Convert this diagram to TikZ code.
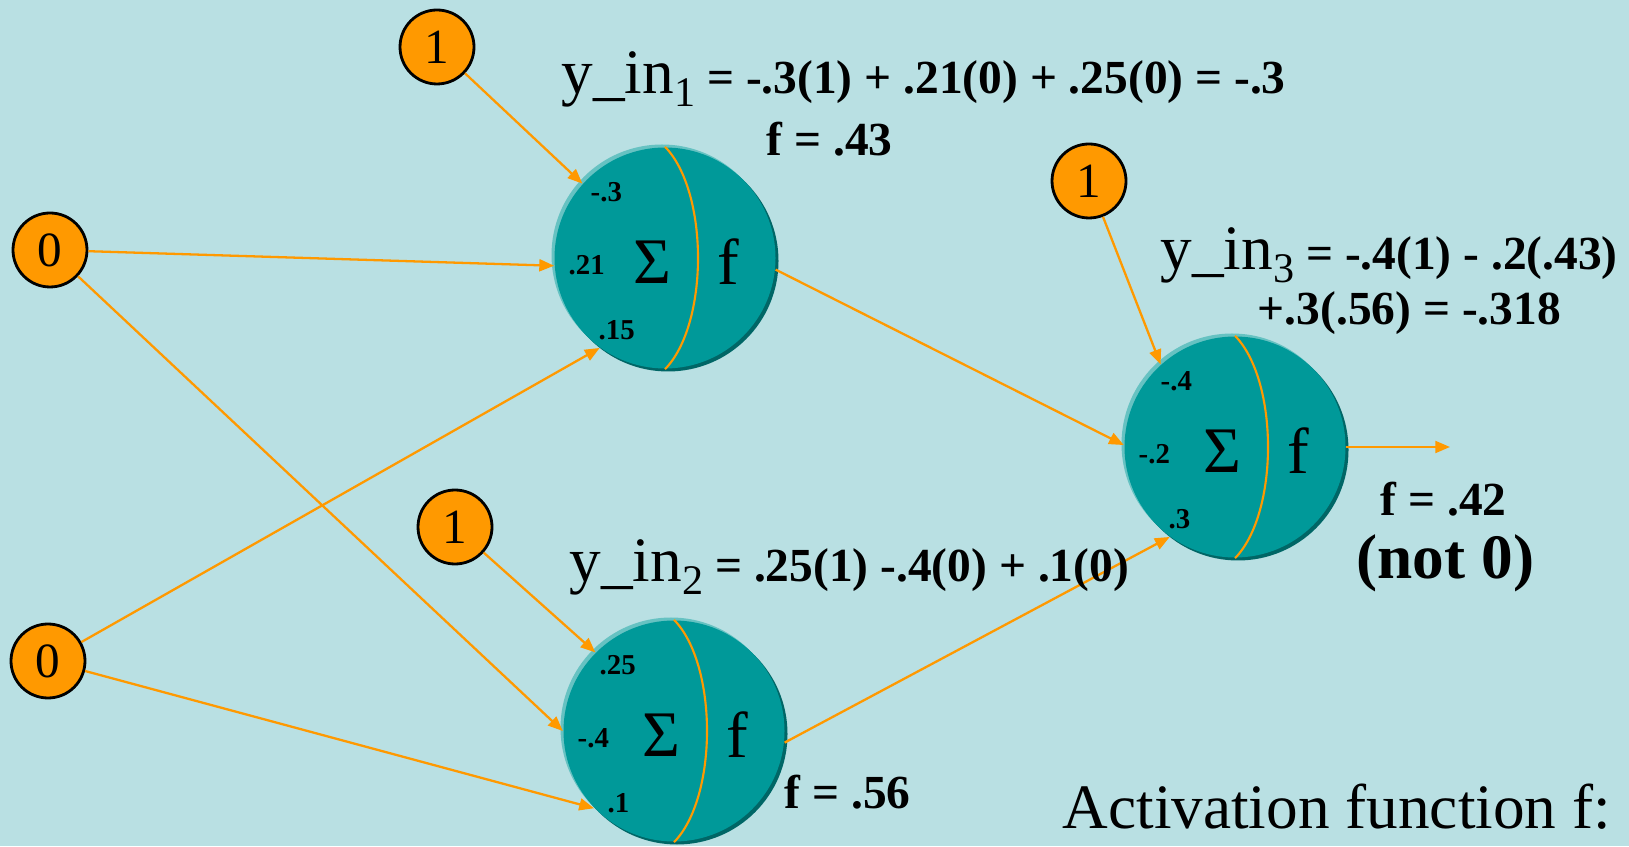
\documentclass[tikz,border=0pt]{standalone}
\usepackage{fontspec}
\setmainfont{Liberation Serif}
\usetikzlibrary{positioning, calc, arrows.meta, shadows}

\begin{document}
\begin{tikzpicture}[
  >={Triangle[length=4.2pt,width=3.4pt]},
  unit/.style={circle, draw=black, line width=0.8pt, fill=cOrange,
    minimum size=7.4mm, inner sep=0pt, font=\fontsize{14}{14}\selectfont},
  neuron/.style={circle, fill=cTeal, minimum size=22.1mm, inner sep=0pt,
    general shadow={fill=cTealLight, shadow xshift=-0.3mm, shadow yshift=0.3mm},
    general shadow={fill=cTealDark, shadow xshift=0.3mm, shadow yshift=-0.3mm}},
  wire/.style={cOrange, line width=0.65pt, ->},
  sym/.style={inner sep=0pt, font=\fontsize{18.5}{20}\selectfont},
  weight/.style={anchor=west, inner sep=0pt, font=\bfseries\fontsize{8.2}{9}\selectfont},
  eqn/.style={anchor=base west, inner sep=0pt, font=\bfseries\fontsize{13.5}{15}\selectfont},
  big/.style={anchor=base west, inner sep=0pt, font=\fontsize{18}{20}\selectfont},
]
\definecolor{cBack}{HTML}{B9E0E3}
\definecolor{cOrange}{HTML}{FF9900}
\definecolor{cTeal}{HTML}{009999}
\definecolor{cTealLight}{HTML}{66C2C2}
\definecolor{cTealDark}{HTML}{006666}

% background, fixes the page size
\fill[cBack] (0,0) rectangle (16.29,8.46);
\useasboundingbox (0,0) rectangle (16.29,8.46);

% ============================================================================
% inputs and biases
% ============================================================================
\node[unit] (b1) at (4.37,7.99) {1};
\node[unit] (x1) at (0.50,5.96) {0};
\node[unit] (x2) at (0.48,1.85) {0};
\node[unit] (b2) at (4.55,3.19) {1};
\node[unit] (b3) at (10.89,6.65) {1};

% ============================================================================
% neurons: sum | activation
% ============================================================================
\node[neuron] (n1) at (6.65,5.88) {};
\node[neuron] (n2) at (6.74,1.15) {};
\node[neuron] (n3) at (12.35,3.99) {};

\foreach \n/\wa/\wb/\wc in {n1/-.3/.21/.15, n2/.25/-.4/.1, n3/-.4/-.2/.3} {
  \draw[cOrange, line width=0.6pt]
    (\n.north) .. controls ($(\n.north)+(0.44,-0.45)$)
    and ($(\n.south)+(0.44,0.45)$) .. (\n.south);
  \node[sym] (\n-sum) at ($(\n)+(-0.13,-0.04)$) {Σ};
  \node[sym] (\n-act) at ($(\n)+(0.63,-0.04)$) {f};
  \node[weight] (\n-wa) at ($(\n)+(-0.75,0.66)$) {\wa};
  \node[weight] (\n-wb) at ($(\n)+(-0.97,-0.07)$) {\wb};
  \node[weight] (\n-wc) at ($(\n)+(-0.67,-0.72)$) {\wc};
}

% ============================================================================
% connections
% ============================================================================
\coordinate (out) at (14.50,3.99);

\draw[wire] (b1) -- (n1.138);
\draw[wire] (x1) -- (n1.184);
\draw[wire] (x2) -- (n1.234);
\draw[wire] (b2) -- (n2.135);
\draw[wire] (x1) -- (n2.180);
\draw[wire] (x2) -- (n2.224);
\draw[wire] (b3) -- (n3.132);
\draw[wire] (n1.354) -- (n3.179);
\draw[wire] (n2.354) -- (n3.234);
\draw[wire] (n3.east) -- (out);

% ============================================================================
% equations
% ============================================================================
\node[eqn] (yin1) at (5.61,7.52)
  {{\mdseries\fontsize{18}{20}\selectfont y\_in\raisebox{-3.5pt}{\fontsize{12}{12}\selectfont 1}} = -.3(1) + .21(0) + .25(0) = -.3};
\node[eqn] (f1) at (7.66,6.90) {f = .43};

\node[eqn] (yin3) at (11.60,5.76)
  {{\mdseries\fontsize{18}{20}\selectfont y\_in\raisebox{-3.5pt}{\fontsize{12}{12}\selectfont 3}} = -.4(1) - .2(.43)};
\node[eqn] (yin3b) at (12.57,5.21) {+.3(.56) = -.318};

\node[eqn] (yin2) at (5.69,2.64)
  {{\mdseries\fontsize{18}{20}\selectfont y\_in\raisebox{-3.5pt}{\fontsize{12}{12}\selectfont 2}} = .25(1) -.4(0) + .1(0)};
\node[eqn] (f2) at (7.84,0.38) {f = .56};

\node[eqn] (f3) at (13.80,3.30) {f = .42};
\node[eqn, font=\bfseries\fontsize{18}{20}\selectfont] (not0) at (13.56,2.67) {(not 0)};

\node[big] (act) at (10.62,0.18) {Activation function f:};

\end{tikzpicture}
\end{document}
